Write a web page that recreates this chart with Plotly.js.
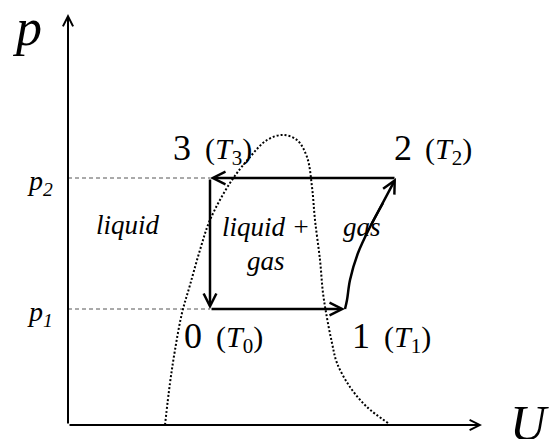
<!DOCTYPE html>
<html>
<head>
<meta charset="utf-8">
<script src="https://cdn.plot.ly/plotly-3.0.1.min.js"></script>
<style>
  html, body { margin: 0; padding: 0; background: #fff; }
  #chart { width: 554px; height: 439px; }
</style>
</head>
<body>
<div id="chart"></div>
<script>
// internal energy U (x) and pressure p (y), arbitrary units
var p1 = 116, p2 = 247;
var U0 = 142, U1 = 277, U2 = 328, U3 = 142;

// saturation dome (dotted)
var domeU = [97, 102, 107, 114, 122, 132, 142, 162, 182, 199, 215, 229, 239, 244, 247, 252, 255, 259, 264, 269, 282, 299, 320];
var domeP = [0, 42, 75, 112, 140, 175, 205, 242, 268, 285, 290, 285, 268, 238, 205, 165, 132, 107, 82, 62, 38, 18, 2];

// path 1 -> 2 (heating of gas)
var curveU = [277, 279, 282, 290, 302, 315, 328];
var curveP = [116, 125, 145, 172, 198, 222, 247];

// state labels: number, then (T_n)
var stateNames = ['0', '1', '2', '3'];
var stateNumU = [124.5, 293, 334.5, 113.5];
var stateTU = [171.5, 339.5, 380, 160];
var stateP = [89.5, 89.5, 277.5, 277.5];

var axisU = 414, axisP = 411;

var serif = 'Liberation Serif, Times New Roman, serif';

var traces = [
  { x: [0, U3], y: [p2, p2], mode: 'lines', line: { color: '#555', width: 1, dash: '4px,3px' }, hoverinfo: 'skip' },
  { x: [0, U0], y: [p1, p1], mode: 'lines', line: { color: '#555', width: 1, dash: '4px,3px' }, hoverinfo: 'skip' },
  { x: domeU, y: domeP, mode: 'lines', line: { color: '#000', width: 2, dash: '2px,2px', shape: 'spline' }, hoverinfo: 'skip' },
  { x: curveU.slice(0, -1), y: curveP.slice(0, -1), mode: 'lines', line: { color: '#000', width: 2.5, shape: 'spline' }, hoverinfo: 'skip' }
];

function arrow(xt, yt, xs, ys, w) {
  return { x: xt, y: yt, ax: xs, ay: ys, xref: 'x', yref: 'y', axref: 'x', ayref: 'y',
    text: '', showarrow: true, arrowhead: 5, arrowsize: 1, arrowwidth: w, arrowcolor: '#000' };
}
function label(x, y, text, size) {
  return { x: x, y: y, xref: 'x', yref: 'y', text: text, showarrow: false,
    xanchor: 'center', yanchor: 'middle', font: { family: serif, size: size, color: '#000' } };
}

var n = curveU.length;
var annotations = [
  arrow(axisU, 0, 0, 0, 2),
  arrow(0, axisP, 0, 0, 2),
  arrow(U0, p1, U3, p2, 2.5),
  arrow(U1, p1, U0, p1, 2.5),
  arrow(U3, p2, U2, p2, 2.5),
  arrow(curveU[n - 1], curveP[n - 1], curveU[n - 3], curveP[n - 3], 2.5),
  label(-41, 398, '<i>p</i>', 52),
  label(461, 2, '<i>U</i>', 50),
  label(-28, 243, '<i>p<sub>2</sub></i>', 28),
  label(-28, 112, '<i>p<sub>1</sub></i>', 28),
  label(60, 200, '<i>liquid</i>', 27),
  label(198, 198, '<i>liquid +</i>', 27),
  label(198, 164, '<i>gas</i>', 27),
  label(294, 198, '<i>gas</i>', 27)
];
stateNames.forEach(function (s, i) {
  annotations.push(label(stateNumU[i], stateP[i], s, 36));
  annotations.push(label(stateTU[i], stateP[i] - 3, '(<i>T</i><sub>' + s + '</sub>)', 30));
});

var layout = {
  width: 554, height: 439,
  margin: { l: 0, r: 0, t: 0, b: 0 },
  paper_bgcolor: '#fff', plot_bgcolor: '#fff',
  showlegend: false,
  xaxis: { range: [-68, 486], visible: false, fixedrange: true },
  yaxis: { range: [-14, 425], visible: false, fixedrange: true },
  annotations: annotations
};

Plotly.newPlot('chart', traces, layout, { staticPlot: true });
</script>
</body>
</html>
